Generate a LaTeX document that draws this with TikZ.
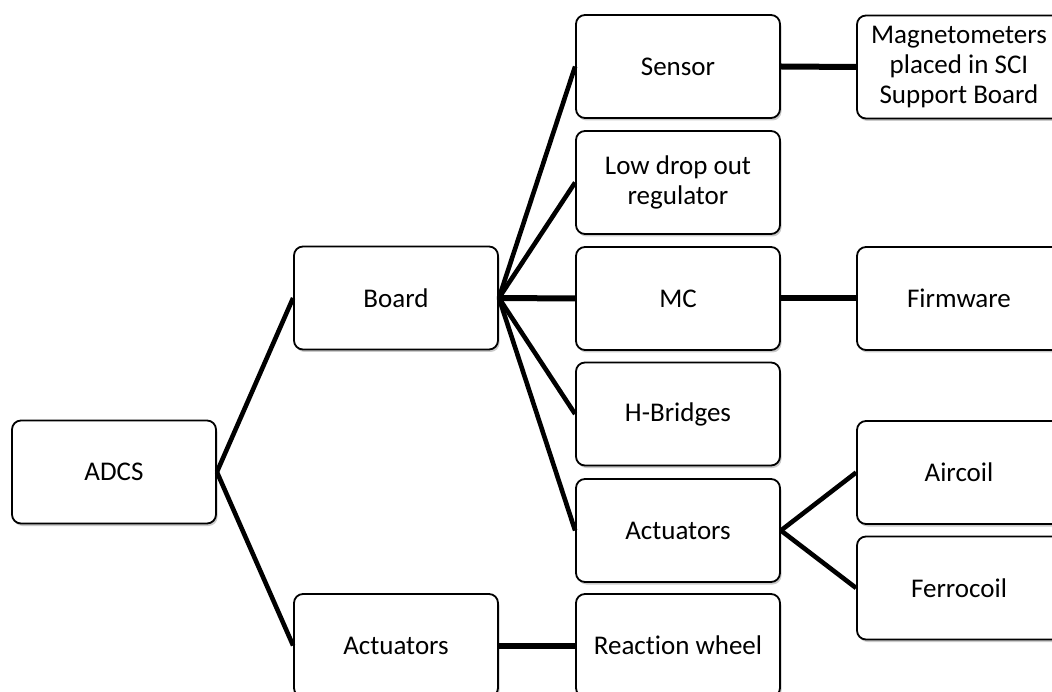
\documentclass[tikz,border=0pt]{standalone}
\usepackage{fontspec}
\setmainfont[Ligatures=NoCommon]{Carlito}
\usetikzlibrary{shadows}
\begin{document}
\begin{tikzpicture}[x=1pt,y=-1pt,
  box/.style={draw=black, line width=1.8pt, rounded corners=9pt, fill=white,
    minimum width=204pt, minimum height=103pt, inner sep=0pt, align=center,
    font=\fontsize{27}{30}\selectfont,
    drop shadow={shadow xshift=1.5pt, shadow yshift=-2.5pt, opacity=0.35, fill=black!60}},
  link/.style={line width=4.6pt, black},
  hlink/.style={line width=6pt, black}]
\useasboundingbox (0,0) rectangle (1052,692);
\clip (0,0) rectangle (1052,692);
\node[box] (adcs) at (114,472) {ADCS};
\node[box] (board) at (396,298) {Board};
\node[box] (act1) at (396,645.5) {Actuators};
\node[box] (sensor) at (678,66.5) {Sensor};
\node[box] (ldo) at (678,182.5) {Low drop out\\regulator};
\node[box] (mc) at (678,298.5) {MC};
\node[box] (hb) at (678,414) {H-Bridges};
\node[box] (act2) at (678,530.5) {Actuators};
\node[box] (rw) at (678,645.5) {Reaction wheel};
\node[box] (mag) at (959,67) {Magnetometers\\placed in SCI\\Support Board};
\node[box] (fw) at (959,298.5) {Firmware};
\node[box] (air) at (959,472.5) {Aircoil};
\node[box] (ferro) at (959,588) {Ferrocoil};
\draw[link] (adcs.east) -- (board.west);
\draw[link] (adcs.east) -- (act1.west);
\draw[link] (board.east) -- (sensor.west);
\draw[link] (board.east) -- (ldo.west);
\draw[hlink] (board.east) -- (mc.west);
\draw[link] (board.east) -- (hb.west);
\draw[link] (board.east) -- (act2.west);
\draw[hlink] (sensor.east) -- (mag.west);
\draw[hlink] (mc.east) -- (fw.west);
\draw[link] (act2.east) -- (air.west);
\draw[link] (act2.east) -- (ferro.west);
\draw[hlink] (act1.east) -- (rw.west);
\end{tikzpicture}
\end{document}
